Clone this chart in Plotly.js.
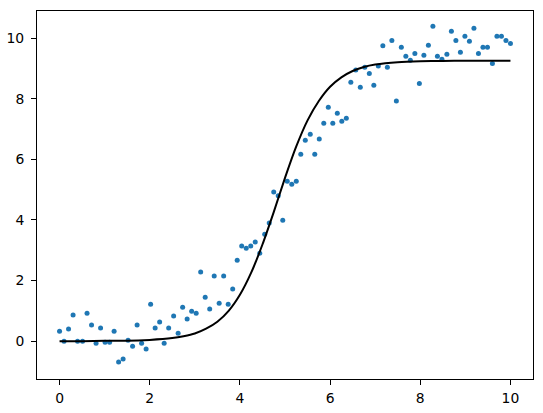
<!DOCTYPE html>
<html>
<head>
<meta charset="utf-8">
<script src="https://cdn.plot.ly/plotly-3.0.1.min.js"></script>
<style>html,body{margin:0;padding:0;background:#fff;}#chart{width:543px;height:413px;}</style>
</head>
<body>
<div id="chart"></div>
<script>
// scatter data (x sampled evenly 0..10, 100 points)
const xData = [0.00,0.10,0.20,0.30,0.40,0.51,0.61,0.71,0.81,0.91,1.01,1.11,1.21,1.31,1.41,1.52,1.62,1.72,1.82,1.92,
  2.02,2.12,2.22,2.32,2.42,2.53,2.63,2.73,2.83,2.93,3.03,3.13,3.23,3.33,3.43,3.54,3.64,3.74,3.84,3.94,
  4.04,4.14,4.24,4.34,4.44,4.55,4.65,4.75,4.85,4.95,5.05,5.15,5.25,5.35,5.45,5.56,5.66,5.76,5.86,5.96,
  6.06,6.16,6.26,6.36,6.46,6.57,6.67,6.77,6.87,6.97,7.07,7.17,7.27,7.37,7.47,7.58,7.68,7.78,7.88,7.98,
  8.08,8.18,8.28,8.38,8.48,8.59,8.69,8.79,8.89,8.99,9.09,9.19,9.29,9.39,9.49,9.60,9.70,9.80,9.90,10.00];
const yData = [0.33,0.00,0.40,0.86,0.00,0.00,0.92,0.53,-0.07,0.43,-0.04,-0.04,0.33,-0.69,-0.59,0.03,-0.17,0.53,-0.07,-0.26,
  1.22,0.43,0.63,-0.07,0.43,0.83,0.26,1.12,0.73,0.99,0.92,2.28,1.45,1.06,2.15,1.25,2.15,1.22,1.72,2.67,
  3.14,3.07,3.14,3.27,2.90,3.53,3.90,4.92,4.80,3.99,5.28,5.18,5.28,6.17,6.63,6.83,6.17,6.67,7.19,7.72,
  7.19,7.52,7.26,7.36,8.55,8.95,8.38,9.04,8.84,8.45,9.08,9.75,9.04,9.93,7.93,9.70,9.41,9.27,9.50,8.51,
  9.44,9.77,10.40,9.41,9.31,9.47,10.23,9.93,9.54,10.07,9.90,10.33,9.50,9.70,9.70,9.17,10.07,10.07,9.93,9.83];

// fitted curve, values
const xCurve = [0,0.5,1,1.5,2,2.5,2.75,3,3.25,3.5,3.75,4,4.25,4.5,4.75,5,5.25,5.5,5.75,6,6.25,6.5,6.75,7,7.5,8,8.5,9,9.5,10];
const yCurve = [0.00,0.00,0.01,0.01,0.04,0.10,0.16,0.25,0.41,0.64,1.00,1.53,2.26,3.19,4.26,5.39,6.43,7.29,7.93,8.40,8.71,8.92,9.05,9.13,9.21,9.24,9.25,9.26,9.26,9.26];

const xTicks = [0,2,4,6,8,10];
const yTicks = [0,2,4,6,8,10];

const font = {family: 'DejaVu Sans', size: 13.9, color: '#000'};

const traces = [
  {x: xData, y: yData, type: 'scatter', mode: 'markers',
   marker: {color: '#1f77b4', size: 5}, hoverinfo: 'skip'},
  {x: xCurve, y: yCurve, type: 'scatter', mode: 'lines',
   line: {color: '#000', width: 2, shape: 'spline', smoothing: 0.6}, hoverinfo: 'skip'}
];

const axisBase = {
  showgrid: false, zeroline: false, showline: true, mirror: true,
  linecolor: '#000', linewidth: 1, ticks: 'outside', ticklen: 5, tickwidth: 1,
  tickcolor: '#000', tickfont: font
};

const layout = {
  width: 543, height: 413,
  margin: {l: 37, r: 10, t: 11, b: 34, pad: 0},
  paper_bgcolor: '#fff', plot_bgcolor: '#fff',
  showlegend: false,
  font: font,
  xaxis: Object.assign({}, axisBase, {range: [-0.5, 10.5], tickvals: xTicks, ticktext: xTicks.map(String), ticklabelstandoff: 1}),
  yaxis: Object.assign({}, axisBase, {range: [-1.25, 10.9], tickvals: yTicks, ticktext: yTicks.map(String), ticklabelstandoff: 4})
};

Plotly.newPlot('chart', traces, layout, {staticPlot: true, displayModeBar: false});
</script>
</body>
</html>
